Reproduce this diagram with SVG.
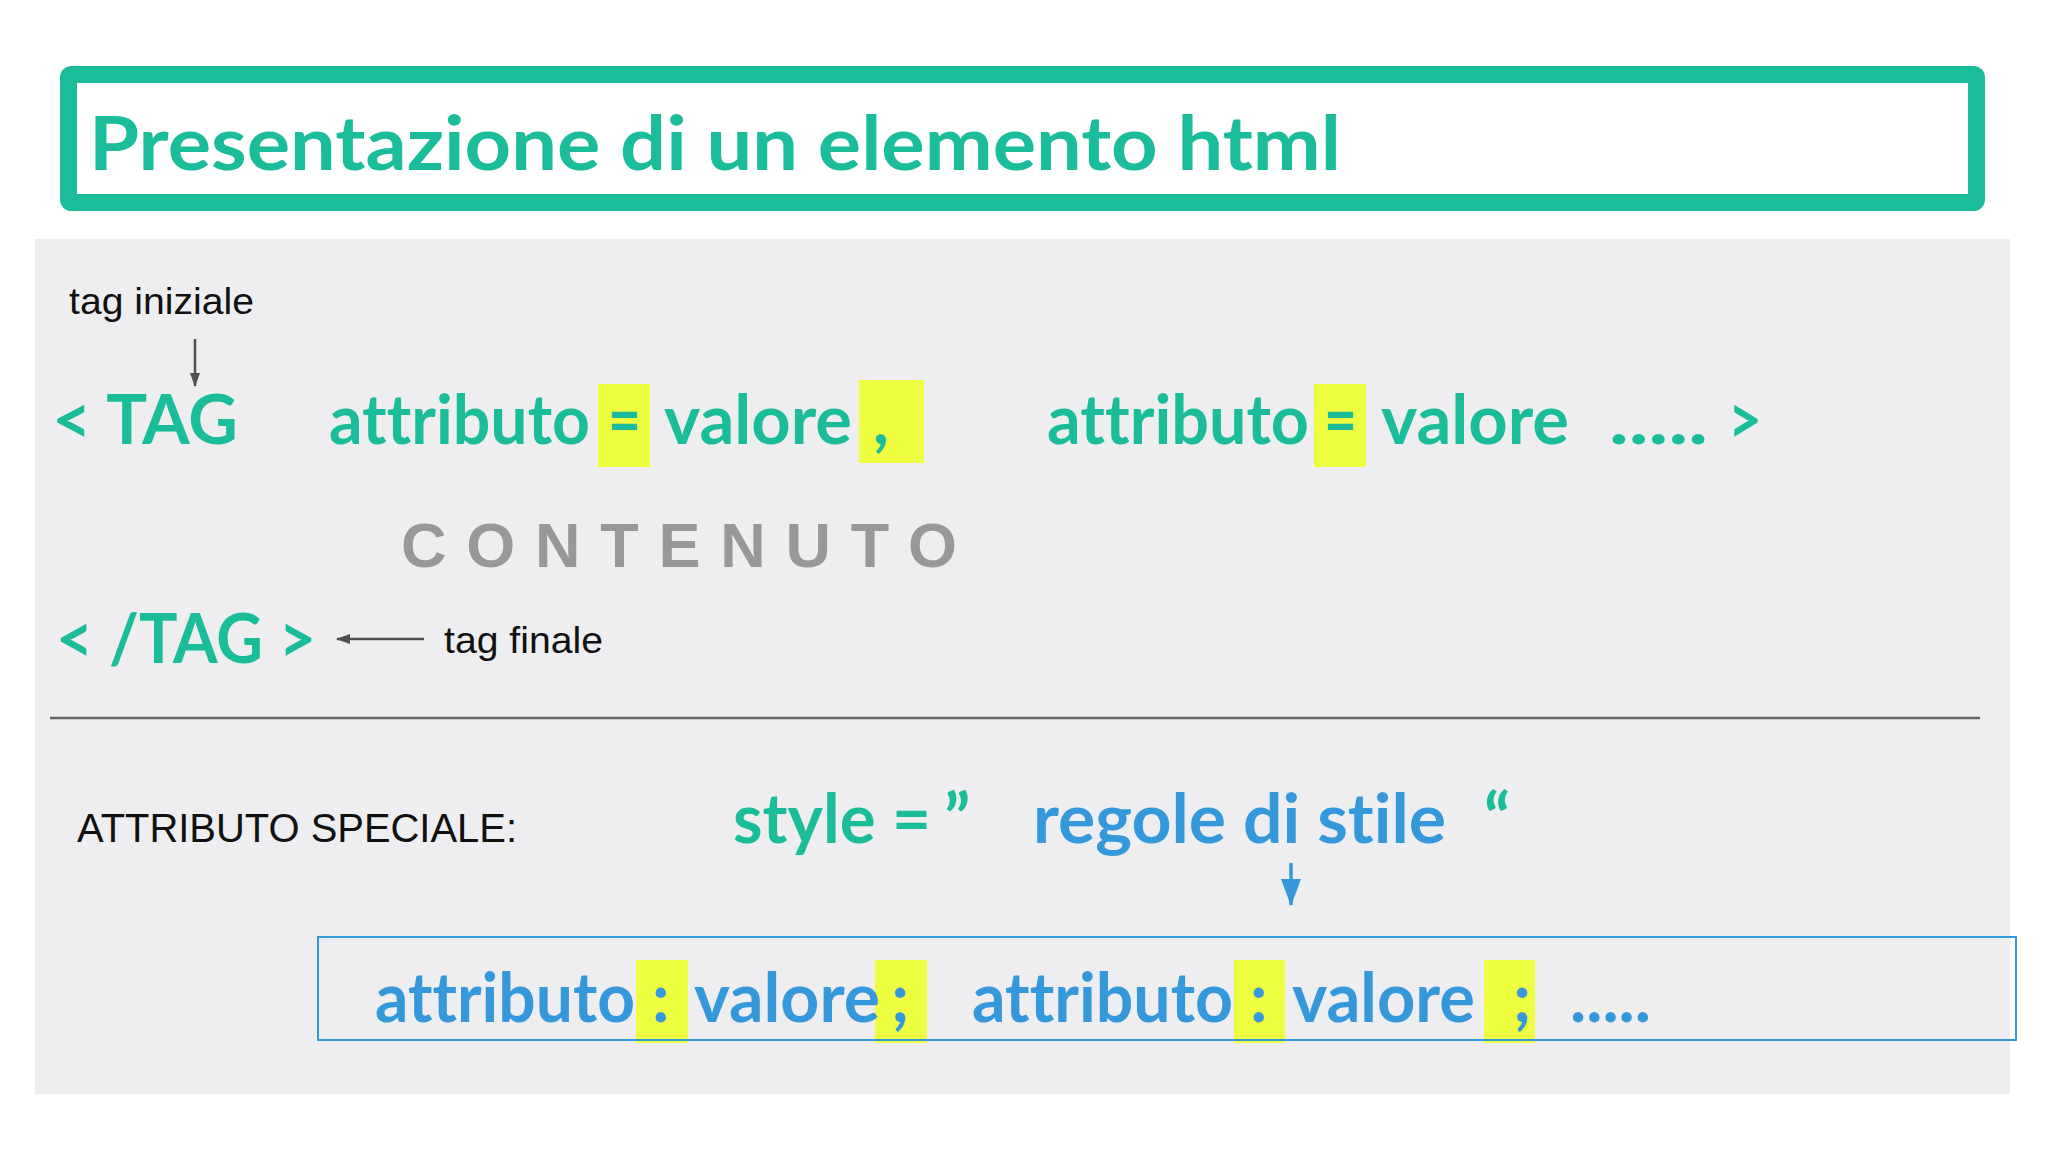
<svg xmlns="http://www.w3.org/2000/svg" width="2048" height="1152" viewBox="0 0 2048 1152">
<defs>
<style>
text{font-variant-ligatures:none;font-feature-settings:"liga" 0,"dlig" 0}
.b{font-family:Lato,"Open Sans","Liberation Sans",sans-serif;font-weight:700;font-size:68px}
.g{fill:#1abc9a}
.bl{fill:#3498db}
.hl{fill:#eefd40}
.lbl{font-family:"Liberation Sans",Arial,sans-serif;font-size:37px;fill:#111}
</style>
<marker id="ah" markerWidth="14" markerHeight="10" refX="13" refY="5" orient="auto" markerUnits="userSpaceOnUse">
<path d="M0,0 L14,5 L0,10 Z" fill="#505050"/>
</marker>
<marker id="ahb" markerWidth="27" markerHeight="20" refX="26" refY="10" orient="auto" markerUnits="userSpaceOnUse">
<path d="M0,0 L27,10 L0,20 Z" fill="#3498db"/>
</marker>
</defs>
<rect width="2048" height="1152" fill="#ffffff"/>
<g id="title">
<rect x="68.5" y="74.5" width="1908" height="128" fill="#ffffff" stroke="#1abc9a" stroke-width="17" rx="3"/>
<text x="89" y="170" class="b g" style="font-size:74px" textLength="1252" lengthAdjust="spacingAndGlyphs">Presentazione di un elemento html</text>
</g>
<rect id="panel" x="35" y="239" width="1975" height="855" fill="#eeeef0"/>
<g id="highlights">
<rect class="hl" x="598" y="384" width="52" height="83"/>
<rect class="hl" x="859" y="380" width="65" height="83"/>
<rect class="hl" x="1314" y="384" width="52" height="83"/>
<rect class="hl" x="636" y="960" width="52" height="83"/>
<rect class="hl" x="875" y="960" width="52" height="83"/>
<rect class="hl" x="1234" y="960" width="51" height="83"/>
<rect class="hl" x="1484" y="960" width="51" height="83"/>
</g>
<g id="start-tag">
<text x="52" y="444" class="b g" textLength="186" lengthAdjust="spacingAndGlyphs">&lt; TAG</text>
<text x="329" y="444" class="b g" textLength="261" lengthAdjust="spacingAndGlyphs">attributo</text>
<text x="608" y="444" class="b g" textLength="33" lengthAdjust="spacingAndGlyphs">=</text>
<text x="664" y="444" class="b g" textLength="188" lengthAdjust="spacingAndGlyphs">valore</text>
<text x="873" y="444" class="b g">,</text>
<text x="1047" y="444" class="b g" textLength="262" lengthAdjust="spacingAndGlyphs">attributo</text>
<text x="1324" y="444" class="b g" textLength="33" lengthAdjust="spacingAndGlyphs">=</text>
<text x="1381" y="444" class="b g" textLength="188" lengthAdjust="spacingAndGlyphs">valore</text>
<text x="1609" y="444" class="b g" textLength="99" lengthAdjust="spacingAndGlyphs">.....</text>
<text x="1728" y="444" class="b g" textLength="34" lengthAdjust="spacingAndGlyphs">&gt;</text>
</g>
<g id="tag-iniziale">
<text x="69" y="314" class="lbl" textLength="185" lengthAdjust="spacingAndGlyphs">tag iniziale</text>
</g>
<g id="contenuto">
<text x="401" y="567" style="font-family:'Liberation Sans',Arial,sans-serif;font-weight:700;font-size:63px;fill:#98989b" textLength="556" lengthAdjust="spacing">CONTENUTO</text>
</g>
<g id="end-tag">
<text x="56" y="663" class="b g" textLength="260" lengthAdjust="spacingAndGlyphs">&lt; /TAG &gt;</text>
</g>
<g id="tag-finale">
<text x="444" y="653" class="lbl" textLength="159" lengthAdjust="spacingAndGlyphs">tag finale</text>
</g>
<line id="separator" x1="50" y1="718" x2="1980" y2="718" stroke="#666" stroke-width="2.5"/>
<g id="attributo-speciale">
<text x="77" y="842" style="font-family:'Liberation Sans',Arial,sans-serif;font-size:40px;fill:#111" textLength="440" lengthAdjust="spacingAndGlyphs">ATTRIBUTO SPECIALE:</text>
</g>
<g id="style-attr">
<text x="733" y="843" class="b g" textLength="198" lengthAdjust="spacingAndGlyphs">style =</text>
<text x="944" y="843" class="b g">”</text>
<text x="1033" y="843" class="b bl" textLength="413" lengthAdjust="spacingAndGlyphs">regole di stile</text>
<text x="1484" y="843" class="b g">“</text>
</g>
<g id="rules">
<rect x="318" y="937" width="1698" height="103" fill="none" stroke="#3498db" stroke-width="2"/>
<text x="375" y="1022" class="b bl" textLength="260" lengthAdjust="spacingAndGlyphs">attributo</text>
<text x="652" y="1022" class="b bl">:</text>
<text x="694" y="1022" class="b bl" textLength="186" lengthAdjust="spacingAndGlyphs">valore</text>
<text x="891" y="1022" class="b bl">;</text>
<text x="972" y="1022" class="b bl" textLength="261" lengthAdjust="spacingAndGlyphs">attributo</text>
<text x="1250" y="1022" class="b bl">:</text>
<text x="1292" y="1022" class="b bl" textLength="183" lengthAdjust="spacingAndGlyphs">valore</text>
<text x="1513" y="1022" class="b bl">;</text>
<text x="1570" y="1022" class="b bl" textLength="81" lengthAdjust="spacingAndGlyphs">.....</text>
</g>
<g id="connectors">
<line x1="195" y1="339" x2="195" y2="386" stroke="#505050" stroke-width="2.5" marker-end="url(#ah)"/>
<line x1="424" y1="639" x2="337" y2="639" stroke="#505050" stroke-width="2.5" marker-end="url(#ah)"/>
<line x1="1291" y1="863" x2="1291" y2="905" stroke="#3498db" stroke-width="3.5" marker-end="url(#ahb)"/>
</g>
</svg>
